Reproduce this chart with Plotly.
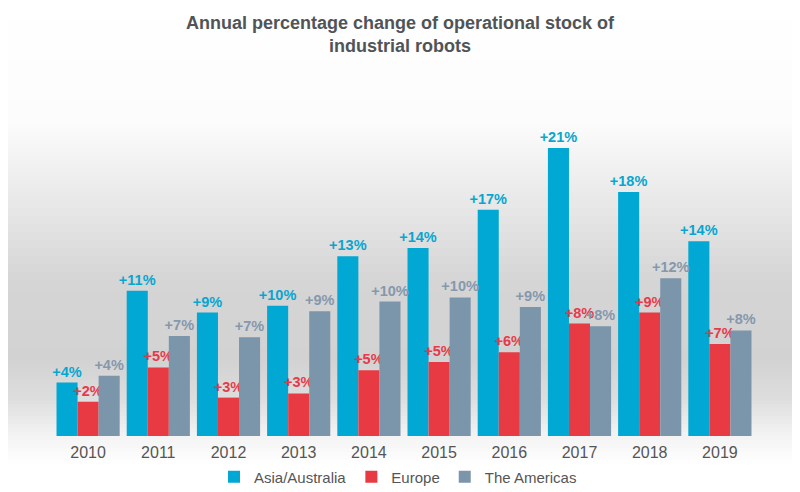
import plotly.graph_objects as go

years = ["2010", "2011", "2012", "2013", "2014", "2015", "2016", "2017", "2018", "2019"]

# growth rates as drawn (bar heights), and the rounded labels printed above them
asia = [3.9, 10.6, 9.0, 9.5, 13.1, 13.7, 16.5, 21.0, 17.8, 14.2]
europe = [2.5, 5.0, 2.8, 3.1, 4.8, 5.4, 6.1, 8.2, 9.0, 6.7]
americas = [4.4, 7.3, 7.2, 9.1, 9.8, 10.1, 9.4, 8.0, 11.5, 7.7]

asia_labels = ["+4%", "+11%", "+9%", "+10%", "+13%", "+14%", "+17%", "+21%", "+18%", "+14%"]
europe_labels = ["+2%", "+5%", "+3%", "+3%", "+5%", "+5%", "+6%", "+8%", "+9%", "+7%"]
americas_labels = ["+4%", "+7%", "+7%", "+9%", "+10%", "+10%", "+9%", "+8%", "+12%", "+8%"]

W, H = 800, 492
PAGE = 8                 # body margin of the html page
TOP, BOTTOM = 100 - PAGE, 436 - PAGE   # plot area in figure pixels
LEFT, RIGHT = 53 - PAGE, 755 - PAGE

fig = go.Figure()

series = [
    ("Asia/Australia", asia, asia_labels, "#00a8d3", "#07a6d0"),
    ("Europe", europe, europe_labels, "#e83a42", "#e8394a"),
    ("The Americas", americas, americas_labels, "#7b95ab", "#8598ad"),
]
for name, vals, labels, col, tcol in series:
    fig.add_trace(go.Bar(
        name=name, x=years, y=vals, text=labels,
        textposition="outside", constraintext="none", cliponaxis=False,
        textfont=dict(family="Liberation Sans", size=14.5, color=tcol, weight="bold"),
        marker=dict(color=col, line=dict(width=0)),
        hoverinfo="skip",
    ))

# soft grey background band (white top, grey middle, white floor), screen pixels
stops = [(0, 255), (120, 252), (200, 233), (280, 213), (360, 210),
         (400, 222), (435, 243), (465, 255), (500, 255)]

def grey_at(y):
    for (y0, g0), (y1, g1) in zip(stops, stops[1:]):
        if y0 <= y <= y1:
            return g0 + (g1 - g0) * (y - y0) / (y1 - y0)
    return 255

def to_paper(ypx):
    return (BOTTOM - ypx) / (BOTTOM - TOP)

shapes = []
step = 4
for y in range(0, H, step):
    g = int(round(grey_at(y + PAGE + step / 2)))
    shapes.append(dict(
        type="rect", xref="paper", yref="paper", layer="below",
        x0=-LEFT / (RIGHT - LEFT), x1=(W - LEFT) / (RIGHT - LEFT),
        y0=to_paper(y + step), y1=to_paper(y),
        fillcolor=f"rgb({g},{g},{g})", line=dict(width=0),
    ))

fig.update_layout(
    width=W, height=H,
    margin=dict(l=LEFT, r=W - RIGHT, t=TOP, b=H - BOTTOM, autoexpand=False),
    paper_bgcolor="white",
    plot_bgcolor="rgba(0,0,0,0)",
    barmode="group", bargap=0.1, bargroupgap=0,
    shapes=shapes,
    title=dict(
        text="Annual percentage change of operational stock of<br>industrial robots",
        x=(400 - PAGE) / W, xanchor="center", y=1 - 21 / H, yanchor="middle",
        font=dict(family="Liberation Sans", size=18, color="#505457", weight="bold"),
    ),
    xaxis=dict(
        range=[-0.5, 9.5], autorange=False,
        showgrid=False, showline=False, zeroline=False, ticks="",
        ticklabelstandoff=5,
        tickfont=dict(family="Liberation Sans", size=16, color="#555555"),
    ),
    yaxis=dict(
        range=[0, 24.5], autorange=False, visible=False, showgrid=False, zeroline=False,
    ),
    legend=dict(
        orientation="h", xref="container", x=(398 - PAGE) / W, xanchor="center",
        yref="container", y=1 - 469 / H, yanchor="middle",
        font=dict(family="Liberation Sans", size=15, color="#555555"),
        bgcolor="rgba(0,0,0,0)",
    ),
    showlegend=True,
)

fig.write_html("out.html")
